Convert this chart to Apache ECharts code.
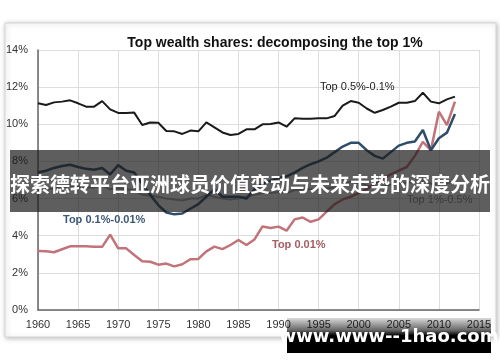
<!DOCTYPE html>
<html><head><meta charset="utf-8">
<script src="https://cdn.jsdelivr.net/npm/echarts@6/dist/echarts.min.js"></script>
<style>html,body{margin:0;padding:0;background:#fff}#c{width:500px;height:362px}</style>
</head><body><div id="c"></div>
<script>
const years = [];
for (let y = 1960; y <= 2012; y++) years.push(y);
const top05_01 = [11.13,11.04,11.18,11.22,11.29,11.13,10.95,10.95,11.25,10.8,10.61,10.61,10.63,9.96,10.1,10.08,9.64,9.62,9.48,9.66,9.62,10.1,9.83,9.56,9.42,9.48,9.73,9.73,10.0,10.02,10.1,9.87,10.32,10.3,10.3,10.32,10.32,10.45,11.0,11.25,11.16,10.85,10.62,10.77,10.95,11.16,11.16,11.25,11.7,11.22,11.13,11.34,11.49];
const top1_05 = [6.55,6.5,6.55,6.6,6.7,6.65,6.6,6.6,6.7,6.5,6.55,6.5,6.45,6.2,6.15,6.1,6.0,5.95,5.9,6.0,6.0,6.2,6.1,6.0,5.95,6.0,6.1,6.2,6.3,6.3,6.35,6.3,6.45,6.5,6.5,6.5,6.55,6.6,6.8,6.9,6.85,6.7,6.6,6.65,6.75,6.8,6.85,6.9,7.0,6.8,6.75,6.85,6.9];
const top01_001 = [7.4,7.5,7.65,7.75,7.82,7.7,7.6,7.55,7.65,7.3,7.8,7.5,7.4,6.8,6.2,5.65,5.25,5.15,5.2,5.45,5.7,6.1,6.5,6.1,6.1,6.1,6.0,6.5,6.8,6.95,7.1,7.2,7.4,7.65,7.85,8.0,8.2,8.5,8.8,9.0,9.0,8.6,8.3,8.15,8.5,8.85,9.0,9.07,9.69,8.6,9.25,9.55,10.55];
const top001 = [3.18,3.16,3.11,3.27,3.43,3.43,3.43,3.4,3.4,4.06,3.32,3.32,2.96,2.63,2.6,2.44,2.5,2.35,2.46,2.73,2.75,3.16,3.41,3.28,3.5,3.77,3.5,3.8,4.5,4.42,4.49,4.27,4.88,4.98,4.75,4.88,5.3,5.7,5.95,6.1,6.3,6.5,6.8,7.05,7.3,7.5,7.7,8.3,9.05,8.6,10.68,9.96,11.22];
const xTicks = [1960,1965,1970,1975,1980,1985,1990,1995,2000,2005,2010,2015];
const yTicks = [0,2,4,6,8,10,12,14];
const titleText = 'Top wealth shares: decomposing the top 1%';
const bannerText = '探索德转平台亚洲球员价值变动与未来走势的深度分析';
const watermarkText = 'www.www--1hao.com';

const pair = arr => years.map((y, i) => [y, arr[i]]);
const chart = echarts.init(document.getElementById('c'), null, {renderer: 'canvas'});
const font = 'Liberation Sans, Arial, sans-serif';
chart.setOption({
  animation: false,
  backgroundColor: '#fff',
  title: {text: titleText, left: 270, top: 31, textAlign: 'center',
    textStyle: {fontFamily: font, fontSize: 14, fontWeight: 'bold', color: '#111'}},
  grid: {left: 38, right: 21, top: 50, bottom: 52, containLabel: false},
  xAxis: {type: 'value', min: xTicks[0], max: xTicks[xTicks.length - 1], interval: 5,
    axisLine: {lineStyle: {color: '#666', width: 1.5}},
    axisTick: {show: false},
    axisLabel: {fontFamily: font, fontSize: 11, color: '#333', margin: 9, formatter: v => String(v)},
    splitLine: {show: true, lineStyle: {color: '#ddd', width: 1}}},
  yAxis: {type: 'value', min: yTicks[0], max: yTicks[yTicks.length - 1], interval: 2,
    axisLine: {show: true, lineStyle: {color: '#666', width: 1.5}},
    axisTick: {show: false},
    axisLabel: {fontFamily: font, fontSize: 11, color: '#333', margin: 10, formatter: v => v + '%'},
    splitLine: {show: true, lineStyle: {color: '#ddd', width: 1}}},
  series: [
    {name: 'Top 1%-0.5%', type: 'line', data: pair(top1_05), symbol: 'none', lineStyle: {color: '#a8a8a8', width: 2}},
    {name: 'Top 0.01%', type: 'line', data: pair(top001), symbol: 'none', lineStyle: {color: '#c27378', width: 2.5}},
    {name: 'Top 0.1%-0.01%', type: 'line', data: pair(top01_001), symbol: 'none', lineStyle: {color: '#2f4d6b', width: 2.5}},
    {name: 'Top 0.5%-0.1%', type: 'line', data: pair(top05_01), symbol: 'none', lineStyle: {color: '#1a1a1a', width: 2}}
  ],
  graphic: [
    {type: 'rect', z: -10, shape: {x: 5, y: 23, width: 491, height: 314},
      style: {fill: '#fff', stroke: '#d4d4d4', lineWidth: 1, shadowBlur: 5, shadowColor: 'rgba(0,0,0,0.25)', shadowOffsetX: 1, shadowOffsetY: 1}},
    {type: 'text', z: 50, left: 320, top: 81, style: {text: 'Top 0.5%-0.1%', font: '11px ' + font, fill: '#222'}},
    {type: 'text', z: 50, left: 63, top: 214, style: {text: 'Top 0.1%-0.01%', font: 'bold 11px ' + font, fill: '#3c5877'}},
    {type: 'text', z: 50, left: 272, top: 239, style: {text: 'Top 0.01%', font: 'bold 11px ' + font, fill: '#a55d63'}},
    {type: 'text', z: 50, left: 407, top: 194, style: {text: 'Top 1%-0.5%', font: '11px ' + font, fill: '#888'}},
    {type: 'rect', z: 100, shape: {x: 10, y: 150, width: 480, height: 62}, style: {fill: 'rgba(25,25,25,0.7)'}},
    {type: 'text', z: 101, x: 250, y: 184, style: {text: bannerText, font: 'bold 20px "Noto Sans CJK SC", sans-serif', fill: '#fff', textAlign: 'center', textVerticalAlign: 'middle'}},
    {type: 'rect', z: 100, shape: {x: 287, y: 318, width: 204, height: 35},
      style: {fill: new echarts.graphic.LinearGradient(0, 0, 0, 1, [
        {offset: 0, color: 'rgba(0,0,0,0.15)'}, {offset: 0.35, color: 'rgba(0,0,0,0.6)'}, {offset: 0.5, color: 'rgba(0,0,0,1)'}, {offset: 1, color: 'rgba(0,0,0,1)'}])}},
    {type: 'text', z: 101, x: 389, y: 337, style: {text: watermarkText, font: 'bold 18px "DejaVu Sans", sans-serif', fill: '#fff', textAlign: 'center', textVerticalAlign: 'middle'}}
  ]
});
</script></body></html>
